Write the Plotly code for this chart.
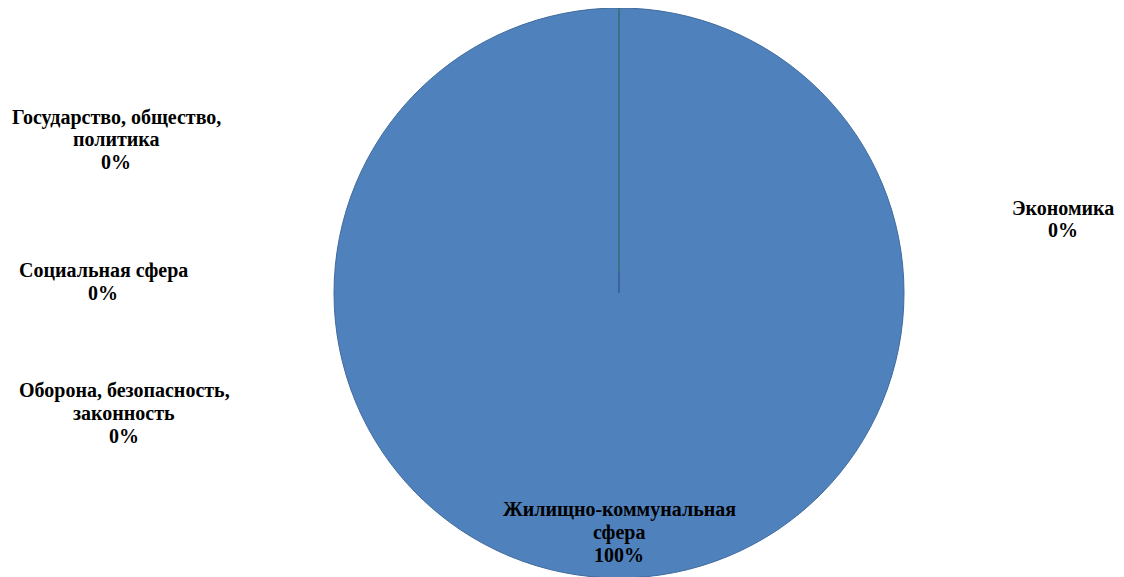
import plotly.graph_objects as go

categories = ["Государство, общество,<br>политика", "Экономика", "Жилищно-коммунальная<br>сфера",
              "Оборона, безопасность,<br>законность", "Социальная сфера"]
values = [0, 0, 100, 0, 0]

W, H = 1124, 577
OFF = 8          # page body margin offset
MT, MB = 0, 7
PH = H - MT - MB
LINE = 22.5      # label line spacing in px

def px(x):
    return (x - OFF) / W

def py(y):
    return 1 - (y - OFF - MT) / PH

# label block centre positions (window pixels)
label_pos = [(116, 139.5), (1063, 219), (619, 532), (124, 413), (103, 282)]

fig = go.Figure()
fig.add_trace(go.Pie(
    labels=[c.replace("<br>", " ") for c in categories],
    values=values,
    sort=False,
    direction="clockwise",
    rotation=0,
    marker=dict(colors=["#4F81BD"] * len(values), line=dict(color="#3F6A9C", width=1)),
    textinfo="none",
    hoverinfo="label+percent",
    showlegend=False,
    domain=dict(x=[0.0872, 1], y=[0, 1]),
))

total = sum(values)
annotations = []
for cat, v, (x, y) in zip(categories, values, label_pos):
    pct = round(100 * v / total)
    lines = cat.split("<br>") + [f"{pct}%"]
    n = len(lines)
    for i, ln in enumerate(lines):
        ly = y + (i - (n - 1) / 2) * LINE
        annotations.append(dict(
            x=px(x), y=py(ly), xref="paper", yref="paper",
            text=f"<b>{ln}</b>", showarrow=False,
            font=dict(family="Liberation Serif", size=20, color="#000000"),
            align="center", xanchor="center", yanchor="middle",
        ))

cx, cy = 619, 293
shapes = [
    dict(type="line", xref="paper", yref="paper", x0=px(cx), x1=px(cx), y0=py(cy - 22), y1=py(0),
         line=dict(color="#357486", width=2)),
    dict(type="line", xref="paper", yref="paper", x0=px(cx), x1=px(cx), y0=py(cy), y1=py(cy - 22),
         line=dict(color="#3B639C", width=2)),
]

fig.update_layout(
    width=W, height=H,
    margin=dict(l=0, r=0, t=MT, b=MB),
    paper_bgcolor="white", plot_bgcolor="white",
    annotations=annotations,
    shapes=shapes,
)

fig.write_html("out.html")
